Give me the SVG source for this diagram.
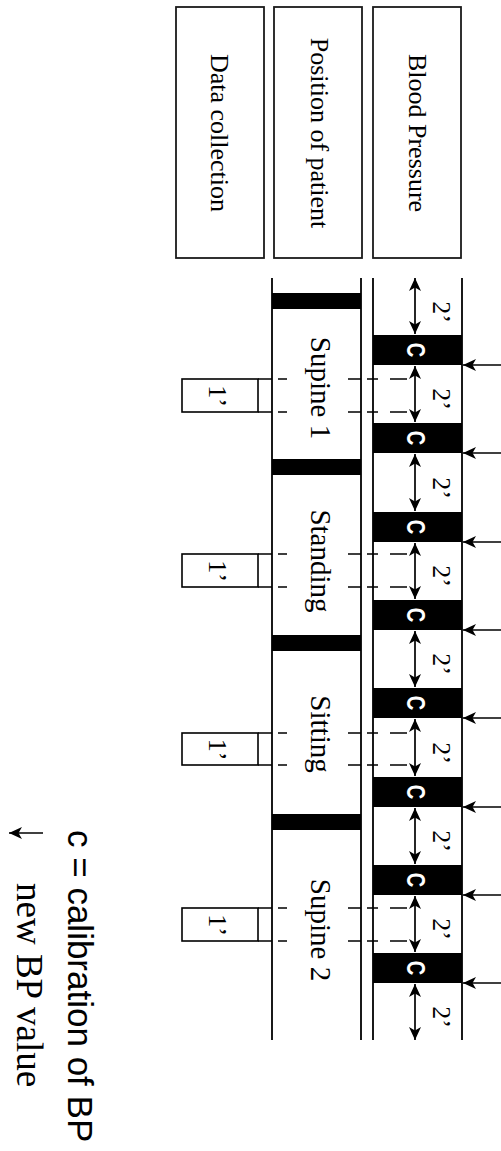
<svg xmlns="http://www.w3.org/2000/svg" width="501" height="1151" viewBox="0 0 501 1151">
<defs>
<marker id="ah" viewBox="0 0 13 12" refX="13" refY="6" markerWidth="13" markerHeight="12" markerUnits="userSpaceOnUse" orient="auto-start-reverse"><path d="M0,0 L13,6 L0,12 L3.5,6 z" fill="#000"/></marker>
<style>
.box{fill:#fff;stroke:#1a1a1a;stroke-width:1.8}
.col{stroke:#000;stroke-width:1.8}
.bar{fill:#000}
.serif{font-family:"Liberation Serif","Times New Roman",serif;fill:#000}
.hdr{font-size:26px}
.pos{font-size:29px}
.min{font-size:26px}
.cal{font-family:"Liberation Sans",Arial,sans-serif;font-weight:bold;font-size:25px;fill:#fff}
.arr{stroke:#000;stroke-width:1.7;fill:none}
.dash{stroke:#000;stroke-width:1.5}
.sbox{fill:#fff;stroke:#000;stroke-width:1.6}
</style>
</defs>
<rect width="501" height="1151" fill="#fff"/>

<g id="hdr-data"><rect class="box" x="176" y="7" width="88" height="251"/><text class="serif hdr" text-anchor="middle" transform="translate(211,133) rotate(90)">Data collection</text></g>
<g id="hdr-position"><rect class="box" x="274" y="7" width="88" height="251"/><text class="serif hdr" text-anchor="middle" transform="translate(311,133) rotate(90)">Position of patient</text></g>
<g id="hdr-bp"><rect class="box" x="373" y="7" width="88" height="251"/><text class="serif hdr" text-anchor="middle" transform="translate(409,133) rotate(90)">Blood Pressure</text></g>

<g id="position-column">
<line class="col" x1="272" y1="278" x2="272" y2="1040"/>
<line class="col" x1="361" y1="278" x2="361" y2="1040"/>
<rect class="bar" x="272" y="293" width="89" height="16"/>
<rect class="bar" x="272" y="459" width="89" height="16"/>
<rect class="bar" x="272" y="635" width="89" height="16"/>
<rect class="bar" x="272" y="814" width="89" height="16"/>
</g>
<g id="pos-supine1"><text class="serif pos" text-anchor="middle" transform="translate(311,388) rotate(90)">Supine 1</text></g>
<g id="pos-standing"><text class="serif pos" text-anchor="middle" transform="translate(311,561) rotate(90)">Standing</text></g>
<g id="pos-sitting"><text class="serif pos" text-anchor="middle" transform="translate(311,734) rotate(90)">Sitting</text></g>
<g id="pos-supine2"><text class="serif pos" text-anchor="middle" transform="translate(311,930) rotate(90)">Supine 2</text></g>

<g id="bp-column">
<line class="col" x1="373" y1="278" x2="373" y2="1040"/>
<line class="col" x1="462" y1="278" x2="462" y2="1040"/>
</g>
<g id="cal-1"><rect class="bar" x="373" y="335" width="89" height="30"/><text class="cal" text-anchor="middle" transform="translate(407,350) rotate(90) scale(0.8,1)">C</text></g>
<g id="cal-2"><rect class="bar" x="373" y="423" width="89" height="30"/><text class="cal" text-anchor="middle" transform="translate(407,438) rotate(90) scale(0.8,1)">C</text></g>
<g id="cal-3"><rect class="bar" x="373" y="512" width="89" height="30"/><text class="cal" text-anchor="middle" transform="translate(407,527) rotate(90) scale(0.8,1)">C</text></g>
<g id="cal-4"><rect class="bar" x="373" y="600" width="89" height="30"/><text class="cal" text-anchor="middle" transform="translate(407,615) rotate(90) scale(0.8,1)">C</text></g>
<g id="cal-5"><rect class="bar" x="373" y="688" width="89" height="30"/><text class="cal" text-anchor="middle" transform="translate(407,703) rotate(90) scale(0.8,1)">C</text></g>
<g id="cal-6"><rect class="bar" x="373" y="777" width="89" height="30"/><text class="cal" text-anchor="middle" transform="translate(407,792) rotate(90) scale(0.8,1)">C</text></g>
<g id="cal-7"><rect class="bar" x="373" y="865" width="89" height="30"/><text class="cal" text-anchor="middle" transform="translate(407,880) rotate(90) scale(0.8,1)">C</text></g>
<g id="cal-8"><rect class="bar" x="373" y="953" width="89" height="30"/><text class="cal" text-anchor="middle" transform="translate(407,968) rotate(90) scale(0.8,1)">C</text></g>

<g id="interval-labels">
<text class="serif min" text-anchor="middle" transform="translate(433,312) rotate(90)">2’</text>
<text class="serif min" text-anchor="middle" transform="translate(433,399) rotate(90)">2’</text>
<text class="serif min" text-anchor="middle" transform="translate(433,488) rotate(90)">2’</text>
<text class="serif min" text-anchor="middle" transform="translate(433,576) rotate(90)">2’</text>
<text class="serif min" text-anchor="middle" transform="translate(433,664) rotate(90)">2’</text>
<text class="serif min" text-anchor="middle" transform="translate(433,753) rotate(90)">2’</text>
<text class="serif min" text-anchor="middle" transform="translate(433,841) rotate(90)">2’</text>
<text class="serif min" text-anchor="middle" transform="translate(433,929) rotate(90)">2’</text>
<text class="serif min" text-anchor="middle" transform="translate(433,1017) rotate(90)">2’</text>
</g>

<g id="data-1"><rect class="sbox" x="182" y="379" width="76" height="33"/><text class="serif min" text-anchor="middle" transform="translate(209,396) rotate(90)">1’</text></g>
<g id="data-2"><rect class="sbox" x="182" y="554" width="76" height="33"/><text class="serif min" text-anchor="middle" transform="translate(209,571) rotate(90)">1’</text></g>
<g id="data-3"><rect class="sbox" x="182" y="733" width="76" height="32"/><text class="serif min" text-anchor="middle" transform="translate(209,749.5) rotate(90)">1’</text></g>
<g id="data-4"><rect class="sbox" x="182" y="908" width="76" height="33"/><text class="serif min" text-anchor="middle" transform="translate(209,925) rotate(90)">1’</text></g>

<g id="connectors">
<g id="interval-arrows">
<line class="arr" x1="415" y1="278" x2="415" y2="334" marker-start="url(#ah)" marker-end="url(#ah)"/>
<line class="arr" x1="415" y1="366" x2="415" y2="422" marker-start="url(#ah)" marker-end="url(#ah)"/>
<line class="arr" x1="415" y1="454" x2="415" y2="511" marker-start="url(#ah)" marker-end="url(#ah)"/>
<line class="arr" x1="415" y1="543" x2="415" y2="599" marker-start="url(#ah)" marker-end="url(#ah)"/>
<line class="arr" x1="415" y1="631" x2="415" y2="687" marker-start="url(#ah)" marker-end="url(#ah)"/>
<line class="arr" x1="415" y1="719" x2="415" y2="776" marker-start="url(#ah)" marker-end="url(#ah)"/>
<line class="arr" x1="415" y1="808" x2="415" y2="864" marker-start="url(#ah)" marker-end="url(#ah)"/>
<line class="arr" x1="415" y1="896" x2="415" y2="952" marker-start="url(#ah)" marker-end="url(#ah)"/>
<line class="arr" x1="415" y1="984" x2="415" y2="1040" marker-start="url(#ah)" marker-end="url(#ah)"/>
</g>
<g id="bp-arrows">
<line class="arr" x1="501" y1="365" x2="463" y2="365" marker-end="url(#ah)"/>
<line class="arr" x1="501" y1="453" x2="463" y2="453" marker-end="url(#ah)"/>
<line class="arr" x1="501" y1="542" x2="463" y2="542" marker-end="url(#ah)"/>
<line class="arr" x1="501" y1="630" x2="463" y2="630" marker-end="url(#ah)"/>
<line class="arr" x1="501" y1="718" x2="463" y2="718" marker-end="url(#ah)"/>
<line class="arr" x1="501" y1="807" x2="463" y2="807" marker-end="url(#ah)"/>
<line class="arr" x1="501" y1="895" x2="463" y2="895" marker-end="url(#ah)"/>
<line class="arr" x1="501" y1="983" x2="463" y2="983" marker-end="url(#ah)"/>
</g>
<g id="data-guides">
<path class="dash" d="M258,379H272M278,379H287M348,379H361M367,379H378M390,379H407M258,412H272M278,412H287M348,412H361M367,412H378M390,412H407"/>
<path class="dash" d="M258,554H272M278,554H287M348,554H361M367,554H378M390,554H407M258,587H272M278,587H287M348,587H361M367,587H378M390,587H407"/>
<path class="dash" d="M258,733H272M278,733H287M348,733H361M367,733H378M390,733H407M258,765H272M278,765H287M348,765H361M367,765H378M390,765H407"/>
<path class="dash" d="M258,908H272M278,908H287M348,908H361M367,908H378M390,908H407M258,941H272M278,941H287M348,941H361M367,941H378M390,941H407"/>
</g>
</g>

<g id="legend">
<line class="arr" x1="43" y1="833" x2="9" y2="833" marker-end="url(#ah)"/>
<text font-family="'Liberation Sans',Arial,sans-serif" font-size="35" fill="#000" transform="translate(68,830) rotate(90)">c = calibration of BP</text>
<text class="serif" font-size="37" transform="translate(17,883) rotate(90)">new BP value</text>
</g>
</svg>
